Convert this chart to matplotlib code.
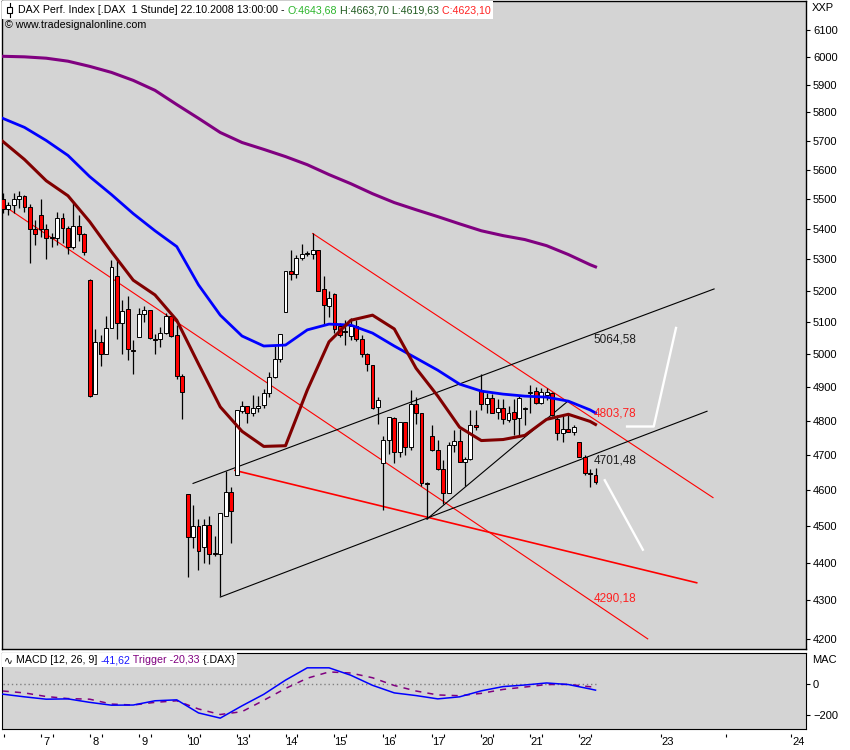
import numpy as np
import matplotlib.pyplot as plt
import matplotlib.transforms as mtransforms
from matplotlib.offsetbox import TextArea, HPacker, AnchoredOffsetbox, DrawingArea
from matplotlib.patches import Rectangle
from matplotlib.lines import Line2D
from matplotlib.ticker import NullLocator, FuncFormatter

plt.rcParams['font.family'] = ['Liberation Sans', 'DejaVu Sans']

# hourly DAX candles, last bar = 22.10.2008 13:00
opens = [5500, 5466, 5479, 5500, 5510, 5472, 5400, 5448, 5400, 5372,
         5371, 5438, 5403, 5339, 5410, 5384, 5235, 4879, 5038, 5003,
         5081, 5245, 5097, 5141, 5014, 5053, 5125, 5138, 5049, 5047,
         5066, 5119, 5059, 4935, 4591, 4470, 4500, 4443, 4505, 4426,
         4424, 4529, 4597, 4643, 4829, 4844, 4823, 4838, 4847, 4882,
         4930, 4985, 5131, 5261, 5252, 5306, 5318, 5319, 5332, 5206,
         5150, 5188, 5088, 5072, 5056, 5088, 5047, 5003, 4968, 4841,
         4677, 4744, 4809, 4709, 4797, 4724, 4850, 4824, 4621, 4756,
         4715, 4662, 4594, 4729, 4741, 4680, 4691, 4788, 4888, 4850,
         4868, 4826, 4838, 4803, 4826, 4809, 4835, 4882, 4888, 4853,
         4876, 4882, 4806, 4765, 4777, 4768, 4738, 4694, 4649, 4643.68]
highs = [5521, 5490, 5521, 5528, 5514, 5483, 5431, 5500, 5417, 5387,
         5455, 5452, 5410, 5486, 5448, 5387, 5236, 5078, 5059, 5119,
         5297, 5306, 5169, 5181, 5044, 5144, 5150, 5138, 5063, 5084,
         5128, 5119, 5091, 4941, 4591, 4560, 4519, 4519, 4530, 4473,
         4537, 4654, 4611, 4832, 4859, 4844, 4876, 4874, 4894, 4948,
         5025, 5062, 5261, 5332, 5313, 5352, 5329, 5385, 5332, 5248,
         5200, 5191, 5097, 5106, 5113, 5106, 5059, 5006, 4968, 4871,
         4755, 4812, 4812, 4797, 4797, 4891, 4871, 4824, 4623, 4788,
         4744, 4686, 4738, 4774, 4777, 4694, 4832, 4832, 4941, 4882,
         4879, 4865, 4865, 4844, 4865, 4876, 4841, 4906, 4900, 4897,
         4897, 4885, 4818, 4818, 4818, 4788, 4738, 4700, 4660, 4663.70]
lows = [5452, 5445, 5452, 5469, 5455, 5287, 5348, 5374, 5300, 5339,
        5348, 5355, 5319, 5335, 5361, 5316, 4871, 4879, 4965, 5000,
        5081, 5047, 5003, 4982, 4941, 5053, 5100, 5047, 5003, 5022,
        5063, 5053, 4924, 4806, 4363, 4441, 4382, 4400, 4397, 4419,
        4311, 4529, 4454, 4643, 4823, 4794, 4815, 4826, 4838, 4870,
        4927, 4976, 5131, 5235, 5239, 5297, 5310, 5303, 5200, 5091,
        5116, 5066, 5053, 5028, 5044, 5041, 4991, 4950, 4835, 4791,
        4546, 4703, 4677, 4694, 4700, 4715, 4791, 4614, 4520, 4712,
        4657, 4563, 4594, 4709, 4680, 4614, 4686, 4774, 4832, 4824,
        4824, 4806, 4791, 4797, 4759, 4759, 4788, 4824, 4850, 4850,
        4862, 4815, 4744, 4738, 4768, 4759, 4694, 4643, 4611, 4619.63]
closes = [5466, 5479, 5500, 5510, 5472, 5400, 5384, 5400, 5371, 5370,
          5438, 5403, 5339, 5410, 5384, 5323, 4874, 5038, 5003, 5081,
          5274, 5097, 5134, 5016, 5010, 5125, 5138, 5050, 5046, 5066,
          5119, 5056, 4935, 4885, 4470, 4500, 4432, 4505, 4424, 4424,
          4537, 4597, 4543, 4832, 4844, 4823, 4838, 4844, 4882, 4930,
          4985, 5062, 5261, 5252, 5306, 5319, 5320, 5332, 5200, 5153,
          5175, 5078, 5060, 5069, 5088, 5047, 5003, 4971, 4838, 4862,
          4744, 4812, 4709, 4797, 4724, 4850, 4824, 4620, 4619, 4715,
          4662, 4594, 4729, 4741, 4680, 4691, 4788, 4782, 4850, 4868,
          4824, 4838, 4806, 4824, 4806, 4868, 4838, 4885, 4853, 4885,
          4885, 4818, 4765, 4777, 4768, 4782, 4694, 4649, 4646, 4623.10]

# indicator values (+ last bar)
ma_bars = list(range(0, 109, 4)) + [109]
sma_purple = [6003, 6001, 5996, 5985, 5966, 5944, 5915, 5879, 5828, 5779,
              5729, 5694, 5670, 5645, 5617, 5583, 5552, 5518, 5488, 5464,
              5441, 5417, 5394, 5378, 5365, 5345, 5316, 5283, 5276]
sma_blue = [5779, 5747, 5701, 5649, 5576, 5515, 5451, 5394, 5342, 5218,
            5122, 5057, 5026, 5029, 5076, 5094, 5091, 5066, 5026, 4989,
            4952, 4910, 4889, 4880, 4874, 4871, 4859, 4833, 4824]
sma_red = [5698, 5635, 5562, 5511, 5424, 5325, 5233, 5186, 5106, 4971,
           4842, 4770, 4726, 4728, 4892, 5039, 5106, 5122, 5079, 4958,
           4874, 4782, 4743, 4746, 4758, 4805, 4820, 4799, 4790]
macd = [-67, -84, -99, -97, -119, -137, -136, -109, -103, -186,
        -219, -141, -68, 22, 100, 100, 53, -11, -59, -76,
        -97, -84, -46, -19, -9, 4, -6, -34, -41.62]
trigger = [-47, -59, -82, -95, -99, -130, -136, -119, -109, -161,
           -196, -178, -106, -31, 34, 74, 67, 37, -12, -47,
           -72, -77, -62, -37, -22, -6, -5, -20, -20.33]

# hand drawn trendlines (bar, price)
red_lines = [[(0, 5480), (118.6, 4200)],
             [(57, 5385), (130.6, 4580)],
             [(42.7, 4657), (127.6, 4347)]]
black_lines = [[(35, 4620), (130.8, 5205)],
               [(40, 4309), (129.5, 4829)],
               [(78, 4520), (103.7, 4856)]]
white_lines = [[(110.7, 4629), (117.7, 4436)],
               [(114.8, 4784), (119.7, 4784), (123.8, 5082)]]
line_values = ['5064,58', '4803,78', '4701,48', '4290,18']
line_value_colors = ['#1e1e1e', '#ff2020', '#1e1e1e', '#ff2020']

# x axis: 9 hourly bars per day
bars_per_day = 9
first_day_bar = 7
hist_days = ['7', '8', '9', '10', '13', '14', '15', '16', '17', '20', '21', '22']
future_bars = [121, 133, 145]
future_days = ['23', '', '24']

W, H = 850, 750
def fx(p): return p / W
def fy(p): return 1 - p / H

fig = plt.figure(figsize=(8.5, 7.5), dpi=100, facecolor='white')
ax = fig.add_axes([fx(2), fy(649), fx(806) - fx(2), fy(1) - fy(649)])
ax2 = fig.add_axes([fx(2), fy(729), fx(806) - fx(2), fy(653) - fy(729)])
bg = '#d4d4d4'
xlim = (-0.13, 147.7)
fs = 7.7

# ---- main panel
ax.set_facecolor(bg)
ax.set_yscale('log')
k = np.arange(len(closes))
o, h, l, c = map(np.array, (opens, highs, lows, closes))
lo = np.minimum(o, c)
hgt = np.maximum(np.abs(c - o), 0.6)
cols = np.where(c >= o, 'white', '#ff0000')
ax.vlines(k, l, h, color='black', lw=0.9, zorder=3)
ax.bar(k, hgt, bottom=lo, width=0.72, color=cols, edgecolor='black', linewidth=0.7, zorder=4)

ax.plot(ma_bars, sma_purple, color='#800080', lw=2.2, zorder=5)
ax.plot(ma_bars, sma_blue, color='#0000ff', lw=2.0, zorder=5)
ax.plot(ma_bars, sma_red, color='#800000', lw=2.2, zorder=5)

for i, ln in enumerate(red_lines):
    xs, ys = zip(*ln)
    ax.plot(xs, ys, color='#ff0000', lw=1.2 if i == 2 else 0.8, zorder=2)
for ln in black_lines:
    xs, ys = zip(*ln)
    ax.plot(xs, ys, color='black', lw=0.8, zorder=2)
for ln in white_lines:
    xs, ys = zip(*ln)
    ax.plot(xs, ys, color='white', lw=1.7, zorder=2)

vas = ['top', 'bottom', 'top', 'bottom']
for txt, col, va in zip(line_values, line_value_colors, vas):
    ax.text(108.6, float(txt.replace(',', '.')), txt, color=col, fontsize=8.5, va=va, ha='left', zorder=6)

ax.set_xlim(*xlim)
ax.set_ylim(4174, 6210)
ax.set_yticks(range(4200, 6101, 100))
ax.yaxis.set_minor_locator(NullLocator())
ax.yaxis.set_major_formatter(FuncFormatter(lambda v, _: '%d' % round(v)))
ax.yaxis.tick_right()
ax.tick_params(axis='y', which='both', direction='out', length=3, width=0.8, pad=2, labelsize=8)
ax.tick_params(axis='x', which='both', bottom=False, labelbottom=False)
for s in ax.spines.values():
    s.set_linewidth(1.0)

# header
def seg(s, col):
    return TextArea(s, textprops=dict(color=col, fontsize=fs))
icon = DrawingArea(8, 10, 0, 0)
icon.add_artist(Line2D([4, 4], [0, 10], color='black', lw=0.8))
icon.add_artist(Rectangle((2, 3), 4, 4, facecolor='white', edgecolor='black', lw=0.8))
head = HPacker(children=[icon,
                         seg(' DAX Perf. Index [.DAX  1 Stunde] 22.10.2008 13:00:00 - ', 'black'),
                         seg('O:4643,68', '#2cb52c'),
                         seg(' H:4663,70 L:4619,63', '#1f5a1f'),
                         seg(' C:4623,10', '#ff2222')],
               sep=0, pad=0, align='center')
hbox = AnchoredOffsetbox(loc='upper left', child=head, pad=0.15, borderpad=0, frameon=True,
                         bbox_to_anchor=(0, 1), bbox_transform=ax.transAxes)
hbox.patch.set_facecolor('white')
hbox.patch.set_edgecolor('none')
hbox.set_zorder(10)
ax.add_artist(hbox)
fig.text(fx(5), fy(25), '\u00a9 www.tradesignalonline.com', fontsize=fs, va='center', ha='left')
fig.text(fx(812), fy(8), 'XXP', fontsize=8, va='center', ha='left')

# ---- MACD panel
ax2.set_facecolor(bg)
ax2.hlines(0, 0, len(closes) - 1, color='#808080', lw=1.0, linestyles=(0, (1, 2)), zorder=1)
ax2.plot(ma_bars, trigger, color='#800080', lw=1.1, ls=(0, (4, 4)), zorder=2)
ax2.plot(ma_bars, macd, color='#0000ff', lw=1.1, zorder=3)
ax2.set_xlim(*xlim)
ax2.set_ylim(-288, 194)
ax2.set_yticks([0, -200])
ax2.yaxis.set_minor_locator(NullLocator())
ax2.yaxis.tick_right()
ax2.tick_params(axis='y', direction='out', length=3, width=0.8, pad=2, labelsize=8)
fig.text(fx(812), fy(660), 'MAC', fontsize=8, va='center', ha='left')

mhead = HPacker(children=[TextArea('\u223f', textprops=dict(color='black', fontsize=fs, family='DejaVu Sans')),
                          seg(' MACD [12, 26, 9] ', 'black'),
                          seg('-41,62', '#1a1aff'),
                          seg(' Trigger -20,33', '#800080'),
                          seg(' {.DAX}', 'black')],
                sep=0, pad=0, align='center')
mbox = AnchoredOffsetbox(loc='upper left', child=mhead, pad=0.15, borderpad=0, frameon=True,
                         bbox_to_anchor=(0, 1), bbox_transform=ax2.transAxes)
mbox.patch.set_facecolor('white')
mbox.patch.set_edgecolor('none')
mbox.set_zorder(10)
ax2.add_artist(mbox)

# day axis below MACD
day_start = [first_day_bar + bars_per_day * i for i in range(len(hist_days))]
label_pos = [d + 1.1 for d in day_start] + [b + 1.3 for b in future_bars]
labels = hist_days + future_days
tick_pos = [0.3] + day_start + [d + 2.2 for d in day_start] + future_bars
ax2.set_xticks(label_pos, labels)
ax2.tick_params(axis='x', length=0, pad=6, labelsize=8)
tr = mtransforms.blended_transform_factory(ax2.transData, ax2.transAxes)
ax2.vlines(tick_pos, -0.06, -0.11, transform=tr, color='black', lw=0.8, clip_on=False)

fig.savefig('out.png', dpi=100, facecolor='white')
